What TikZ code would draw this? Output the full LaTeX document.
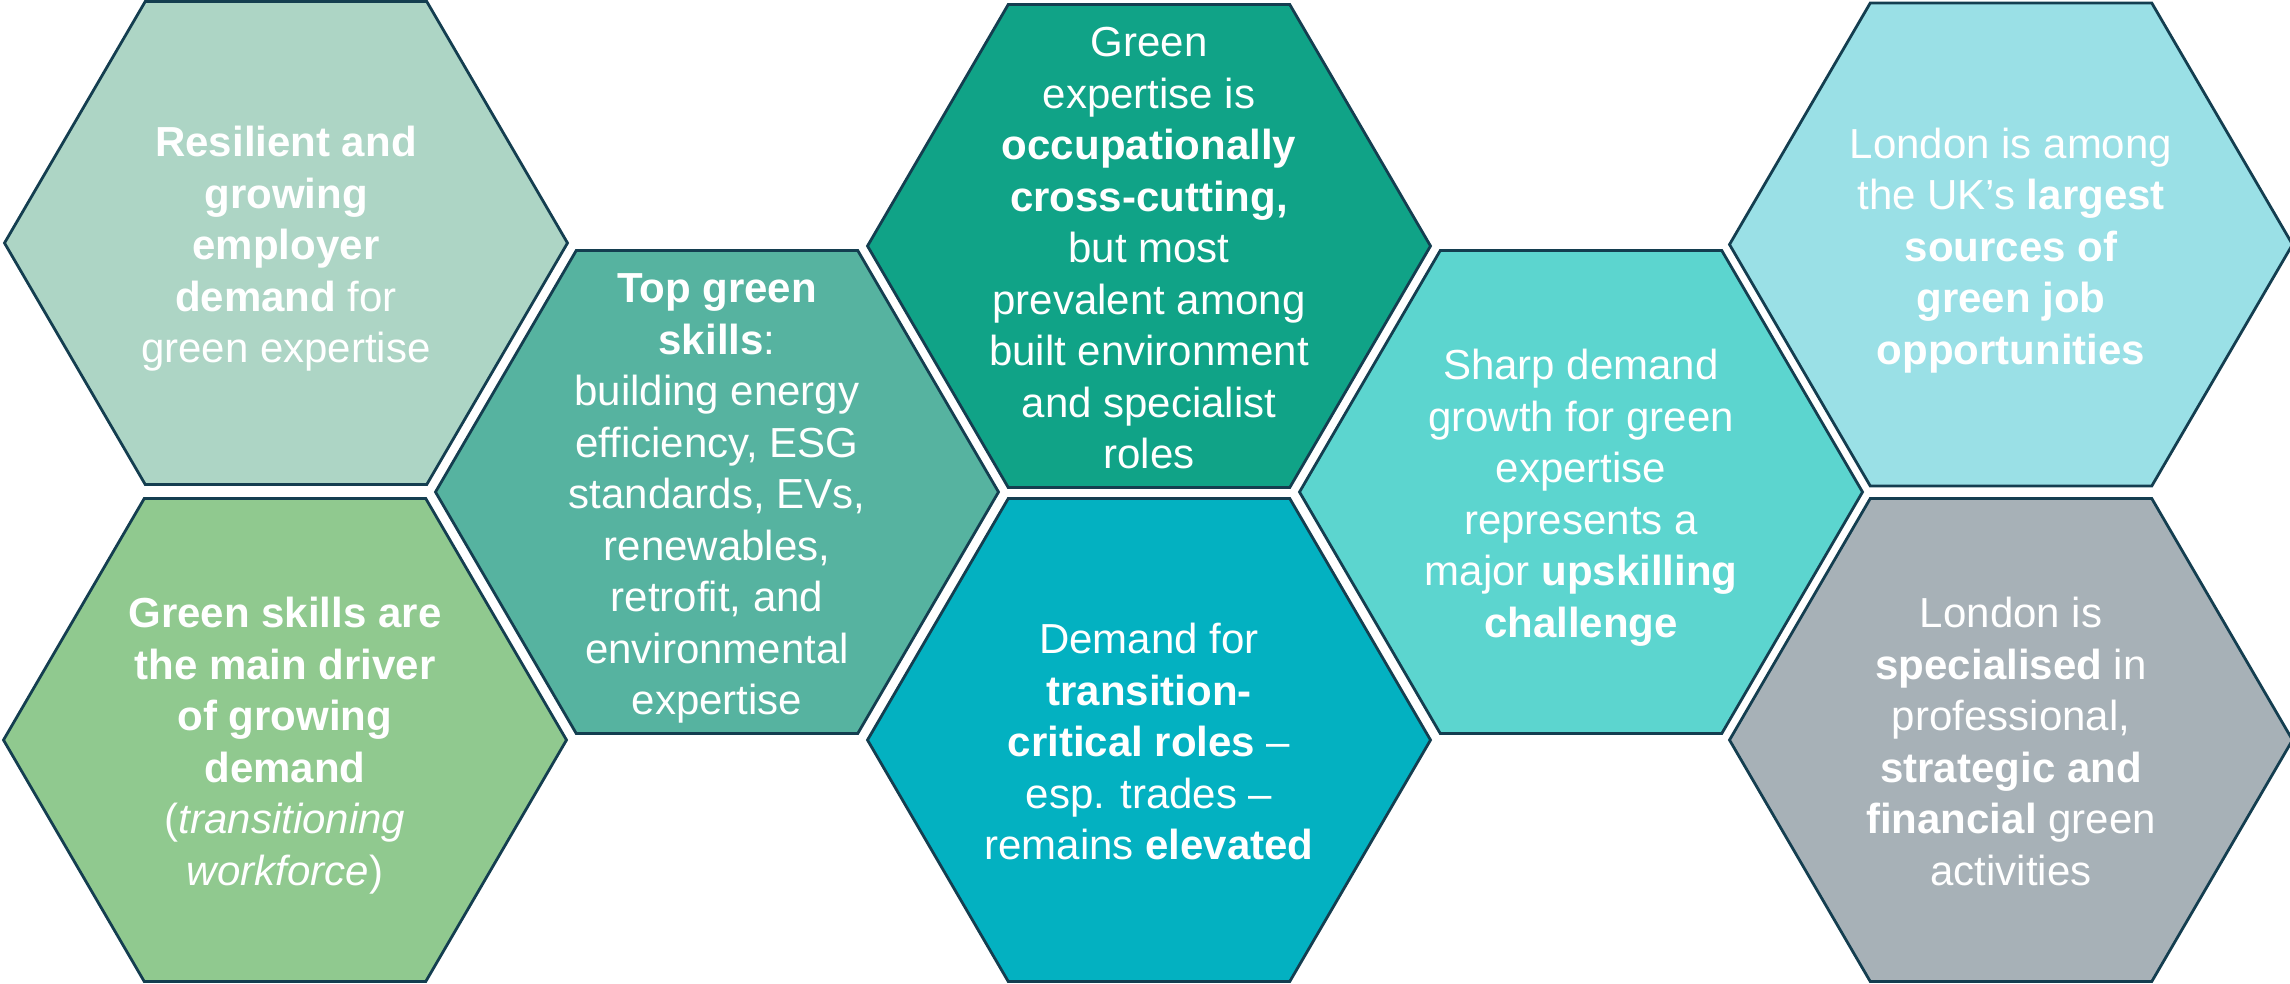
\documentclass[tikz,border=0pt]{standalone}
\usepackage{fontspec}
\setmainfont{Liberation Sans}
\definecolor{edgecol}{HTML}{143E50}
\definecolor{cA}{HTML}{ADD5C5}
\definecolor{cB}{HTML}{90C98F}
\definecolor{cC}{HTML}{56B3A0}
\definecolor{cD}{HTML}{10A387}
\definecolor{cE}{HTML}{03B1C1}
\definecolor{cF}{HTML}{5CD5CF}
\definecolor{cG}{HTML}{9AE0E6}
\definecolor{cH}{HTML}{A7B1B7}
\newcommand{\hexcell}[5]{%
  \coordinate (#1) at (#2,#3);
  \draw[hexline, fill=#4] ([shift={(-281.5,0)}]#1) -- ++(140.75,241.5) -- ++(281.5,0) -- ++(140.75,-241.5) -- ++(-140.75,-241.5) -- ++(-281.5,0) -- cycle;
  \node[hextext] (#1t) at (#1) {\rule{0pt}{38pt}#5\rule[-9pt]{0pt}{9pt}};
}
\begin{document}
\begin{tikzpicture}[x=1pt,y=-1pt,
  hexline/.style={draw=edgecol, line width=2.8pt, line join=miter},
  hextext/.style={text=white, align=center, inner sep=0pt, yshift=-2pt, font=\fontsize{42}{51.5}\selectfont}]
\useasboundingbox (0,0) rectangle (2290,984);
\hexcell{h1}{286}{243}{cA}{\textbf{Resilient and}\\\textbf{growing}\\\textbf{employer}\\\textbf{demand} for\\green expertise}
\hexcell{h2}{285}{740}{cB}{\textbf{Green skills are}\\\textbf{the main driver}\\\textbf{of growing}\\\textbf{demand}\\(\textit{transitioning}\\\textit{workforce})}
\hexcell{h3}{717}{492}{cC}{\textbf{Top green}\\\textbf{skills}:\\building energy\\efficiency, ESG\\standards, EVs,\\renewables,\\retrofit, and\\environmental\\expertise}
\hexcell{h4}{1149}{246}{cD}{Green\\expertise is\\\textbf{occupationally}\\\textbf{cross-cutting,}\\but most\\prevalent among\\built environment\\and specialist\\roles}
\hexcell{h5}{1149}{740}{cE}{Demand for\\\textbf{transition-}\\\textbf{critical roles} –\\esp. trades –\\remains \textbf{elevated}}
\hexcell{h6}{1581}{492}{cF}{Sharp demand\\growth for green\\expertise\\represents a\\major \textbf{upskilling}\\\textbf{challenge}}
\hexcell{h7}{2011}{244.5}{cG}{London is among\\the UK’s \textbf{largest}\\\textbf{sources of}\\\textbf{green job}\\\textbf{opportunities}}
\hexcell{h8}{2011}{740}{cH}{London is\\\textbf{specialised} in\\professional,\\\textbf{strategic and}\\\textbf{financial} green\\activities}
\end{tikzpicture}
\end{document}
